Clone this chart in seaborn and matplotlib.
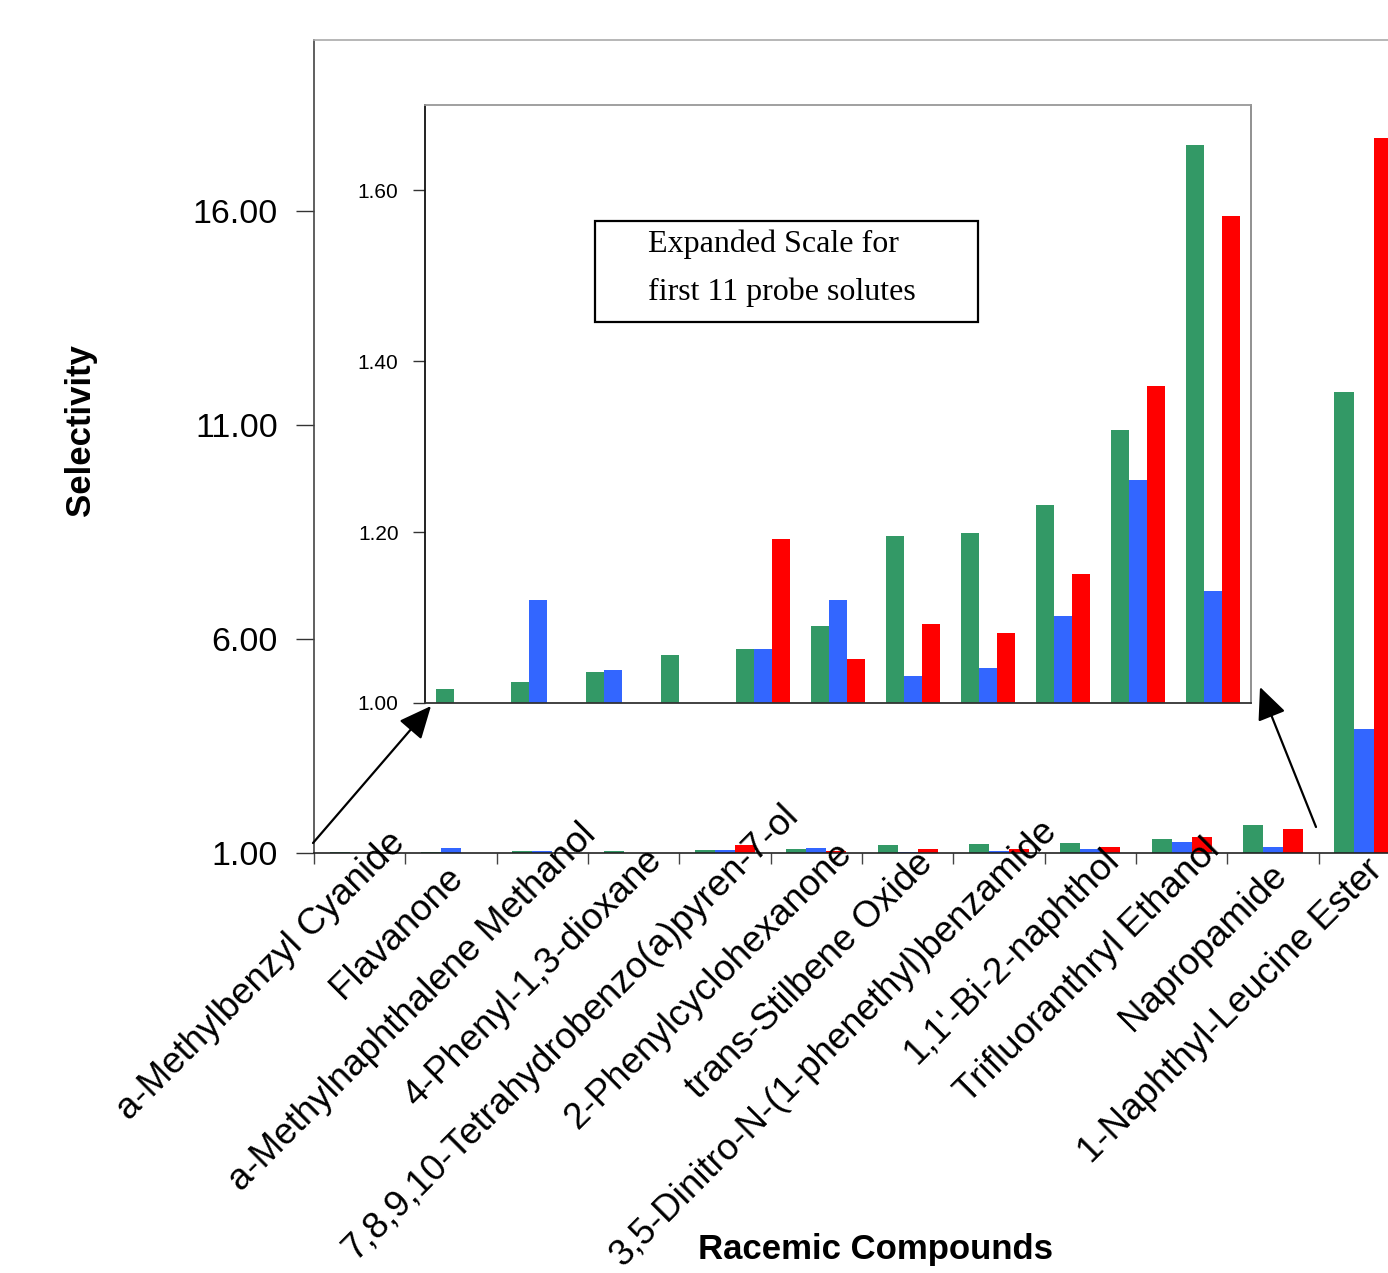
import numpy as np
import pandas as pd
import seaborn as sns
import matplotlib.pyplot as plt
from matplotlib.patches import Rectangle
from matplotlib.transforms import offset_copy

# data
compounds = ['a-Methylbenzyl Cyanide', 'Flavanone', 'a-Methylnaphthalene Methanol',
             '4-Phenyl-1,3-dioxane', '7,8,9,10-Tetrahydrobenzo(a)pyren-7-ol',
             '2-Phenylcyclohexanone', 'trans-Stilbene Oxide',
             '3,5-Dinitro-N-(1-phenethyl)benzamide', "1,1'-Bi-2-naphthol",
             'Trifluoranthryl Ethanol', 'Napropamide', '1-Naphthyl-Leucine Ester']
series_names = ['Series 1', 'Series 2', 'Series 3']
green_vals = [1.016, 1.024, 1.036, 1.056, 1.063, 1.090, 1.196, 1.199, 1.232, 1.319, 1.653, 11.78]
blue_vals = [1.00, 1.121, 1.039, 1.00, 1.063, 1.120, 1.032, 1.041, 1.102, 1.261, 1.131, 3.89]
red_vals = [1.00, 1.00, 1.00, 1.00, 1.192, 1.051, 1.092, 1.082, 1.151, 1.371, 1.570, 17.70]
main_yticks = [1.0, 6.0, 11.0, 16.0]
inset_yticks = [1.0, 1.2, 1.4, 1.6]

colors = ['#339966', '#3366FF', '#FF0000']

# how far each rotated label sits along its slant (pixels), as in the original
label_rise = [15, -19, 23, -2, 43, 5, -5, 28, -2, 8, -17, -12]

df = pd.DataFrame({
    'compound': compounds * 3,
    'series': sum([[s] * len(compounds) for s in series_names], []),
    'selectivity': green_vals + blue_vals + red_vals,
})

sns.set_style('white')
plt.rcParams['font.family'] = ['Liberation Sans', 'DejaVu Sans']

W, H = 1388, 1273
fig = plt.figure(figsize=(W / 100, H / 100), dpi=100)

# main axes (right end runs past the figure edge, like the original)
ax = fig.add_axes([314 / W, 1 - 853 / H, (1410 - 314) / W, (853 - 40) / H])
sns.barplot(data=df, x='compound', y='selectivity', hue='series', order=compounds,
            hue_order=series_names, palette=colors, saturation=1, width=0.66,
            legend=False, linewidth=0, ax=ax)
ax.set_xlim(-0.5, 11.5)
ax.set_ylim(1, 20)
ax.set_yticks(main_yticks)
ax.set_yticklabels(['%.2f' % v for v in main_yticks], fontsize=24.5)
ax.set_xticks(np.arange(-0.5, 12.0, 1.0))
ax.set_xticklabels([])
ax.tick_params(axis='y', direction='out', length=13, width=1, pad=13, left=True,
               color='#333333', labelcolor='black')
ax.tick_params(axis='x', direction='out', length=8, width=1, bottom=True, color='#444444')
ax.set_xlabel('')
ax.set_ylabel('')
ax.spines['right'].set_visible(False)
ax.spines['top'].set_color('#aaaaaa')
ax.spines['left'].set_color('#444444')
ax.spines['bottom'].set_color('#222222')
for s in ['top', 'left', 'bottom']:
    ax.spines[s].set_linewidth(1.2)

base = ax.get_xaxis_transform()
for i, (name, rise) in enumerate(zip(compounds, label_rise)):
    tr = offset_copy(base, fig=fig, x=25 + rise, y=rise, units='dots')
    ax.text(i, 0, name, transform=tr, rotation=45, rotation_mode='anchor',
            ha='right', va='center', fontsize=26.5, color='black', clip_on=False)

fig.text(80 / W, 1 - 430 / H, 'Selectivity', rotation=90, ha='center', va='center',
         fontsize=25, fontweight='bold', color='black')
fig.text(875 / W, 1 - 1249 / H, 'Racemic Compounds', ha='center', va='center',
         fontsize=25, fontweight='bold', color='black')

# inset with expanded scale for first 11 solutes
ax_in = fig.add_axes([425 / W, 1 - 703 / H, (1251 - 425) / W, (703 - 105) / H])
ax_in.set_facecolor('white')
sns.barplot(data=df[df['compound'] != compounds[-1]], x='compound', y='selectivity',
            hue='series', order=compounds[:-1], hue_order=series_names, palette=colors,
            saturation=1, width=0.72, legend=False, linewidth=0, ax=ax_in)
ax_in.set_xlim(-0.5, 10.5)
ax_in.set_ylim(1, 1.70)
ax_in.set_yticks(inset_yticks)
ax_in.set_yticklabels(['%.2f' % v for v in inset_yticks], fontsize=15)
ax_in.set_xticks([])
ax_in.tick_params(axis='y', direction='out', length=9, width=1, pad=10, left=True,
                  color='#333333', labelcolor='black')
ax_in.set_xlabel('')
ax_in.set_ylabel('')
ax_in.spines['left'].set_color('#111111')
ax_in.spines['bottom'].set_color('#333333')
ax_in.spines['top'].set_color('#999999')
ax_in.spines['right'].set_color('#888888')
for s in ax_in.spines.values():
    s.set_linewidth(1.3)

fig.add_artist(Rectangle((595 / W, 1 - 322 / H), 383 / W, 101 / H, transform=fig.transFigure,
                         fill=False, edgecolor='black', linewidth=1.6))
fig.text(648 / W, 1 - 252 / H, 'Expanded Scale for', family=['Liberation Serif', 'DejaVu Serif'],
         fontsize=23, ha='left', va='baseline', color='black')
fig.text(648 / W, 1 - 300 / H, 'first 11 probe solutes', family=['Liberation Serif', 'DejaVu Serif'],
         fontsize=23, ha='left', va='baseline', color='black')

arrow_kw = dict(arrowstyle='-|>,head_length=1.0,head_width=0.45', mutation_scale=20,
                color='black', lw=1.6, shrinkA=0, shrinkB=0)
ax_in.annotate('', xy=(431, H - 706), xytext=(313, H - 843), xycoords='figure pixels',
               textcoords='figure pixels', arrowprops=arrow_kw, annotation_clip=False)
ax_in.annotate('', xy=(1260, H - 687), xytext=(1316, H - 827), xycoords='figure pixels',
               textcoords='figure pixels', arrowprops=arrow_kw, annotation_clip=False)

fig.savefig('out.png', dpi=100)
